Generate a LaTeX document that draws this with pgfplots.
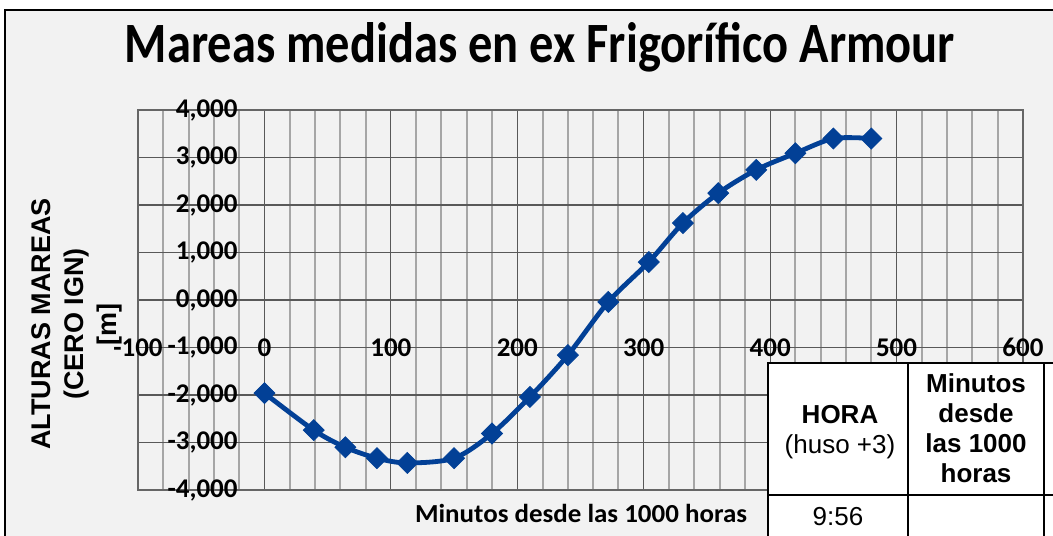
\documentclass[border=0pt]{standalone}
\usepackage{fontspec}
\setmainfont{Carlito}
\newfontfamily\arial{Liberation Sans}
\usepackage{graphicx}
\usepackage{pgfplots}
\pgfplotsset{compat=1.18}

\definecolor{chartbg}{HTML}{F2F2F2}
\definecolor{serie}{RGB}{2,64,150}

\begin{document}
\begin{tikzpicture}[x=0.5pt,y=-0.5pt]
% picture in pixel units of the reference, y downward
\useasboundingbox (0,0) rectangle (1053,535);
\clip (0,0) rectangle (1053,535);
\fill[white] (0,0) rectangle (1053,535);
\filldraw[fill=chartbg, draw=black, line width=1.2pt] (5,10) rectangle (1080,560);

\begin{axis}[
  at={(69pt,-245pt)}, anchor=south west,
  scale only axis, width=442.5pt, height=190pt,
  xmin=-100, xmax=600, ymin=-4, ymax=4,
  xtick distance=100, ytick distance=1,
  minor x tick num=4,
  xmajorgrids, xminorgrids, ymajorgrids,
  major grid style={draw=black!65, line width=0.6pt},
  minor grid style={draw=black!35, line width=1pt},
  axis line style={draw=black!60, line width=0.8pt},
  major tick length=0pt, minor tick length=0pt,
  axis background/.style={fill=chartbg},
  /pgf/number format/assume math mode=true,
  ticklabel style={font=\fontsize{13.5}{13.5}\selectfont\bfseries},
  xticklabel style={anchor=center, yshift=71.25pt},
  yticklabel style={anchor=east, inner sep=0pt, xshift=50pt,
    /pgf/number format/.cd, fixed, fixed zerofill, precision=3, use comma},
]
\addplot[serie, line width=2.4pt, smooth, tension=0.5,
  mark=square*, mark size=3.7pt,
  mark options={solid, rotate=45, fill=serie, draw=serie, line width=0.4pt}]
  coordinates {
  (0,-1.96) (39,-2.74) (64,-3.10) (89,-3.33) (113,-3.43) (150,-3.33)
  (180,-2.81) (210,-2.04) (240,-1.16) (272,-0.04) (304,0.80)
  (331,1.62) (359,2.25) (389,2.74) (420,3.09) (450,3.40) (480,3.40)
  };
\end{axis}

\node[font=\bfseries\fontsize{28.5}{30}\selectfont, inner sep=0pt] at (540,47)
  {\resizebox{415pt}{\height}{Mareas medidas en ex Frigorífico Armour}};

\node[rotate=90, align=center, inner sep=0pt,
  font=\arial\bfseries\fontsize{13.5}{16.5}\selectfont] at (77,324)
  {ALTURAS MAREAS\\(CERO IGN)\\{[m]}};

\node[font=\bfseries\fontsize{13}{13}\selectfont, inner sep=0pt] at (581,513)
  {\resizebox{166pt}{\height}{Minutos desde las 1000 horas}};

% table overlapping the chart
\fill[white] (768,363) rectangle (1080,560);
\draw[black, line width=1pt] (768,560) -- (768,363) -- (1080,363);
\draw[black, line width=1pt] (908,363) -- (908,560);
\draw[black, line width=1pt] (1044,363) -- (1044,560);
\draw[black, line width=1pt] (768,495) -- (1080,495);
\node[font=\arial\bfseries\fontsize{13}{15}\selectfont] at (840,415) {HORA};
\node[font=\arial\fontsize{13}{15}\selectfont] at (840,447) {(huso +3)};
\node[align=center, font=\arial\bfseries\fontsize{13}{15}\selectfont] at (976,428)
  {Minutos\\desde\\las 1000\\horas};
\node[font=\arial\fontsize{13}{15}\selectfont] at (838,517) {9:56};
\end{tikzpicture}
\end{document}
